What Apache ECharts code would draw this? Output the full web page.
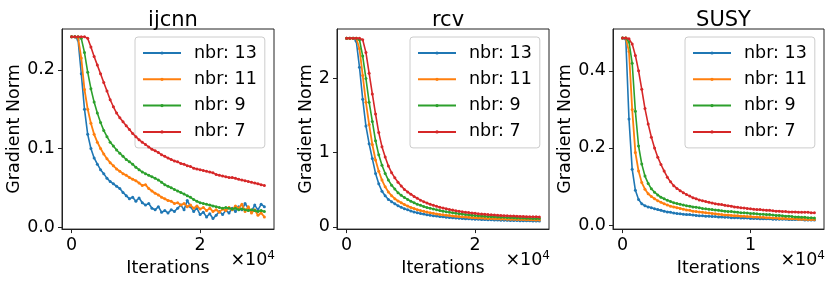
<!DOCTYPE html>
<html>
<head>
<meta charset="utf-8">
<script src="https://cdn.jsdelivr.net/npm/echarts@6/dist/echarts.min.js"></script>
<style>html,body{margin:0;padding:0;background:#fff}#c{width:830px;height:282px}</style>
</head>
<body>
<div id="c"></div>
<script>
const seriesNames = ['nbr: 13', 'nbr: 11', 'nbr: 9', 'nbr: 7'];
const panelTitles = ['ijcnn', 'rcv', 'SUSY'];

const itersLong = [0,500,1000,1500,2000,2500,3000,3500,4000,4500,5000,5500,6000,6500,7000,7500,8000,8500,9000,9500,10000,10500,11000,11500,12000,12500,13000,13500,14000,14500,15000,15500,16000,16500,17000,17500,18000,18500,19000,19500,20000,20500,21000,21500,22000,22500,23000,23500,24000,24500,25000,25500,26000,26500,27000,27500,28000,28500,29000,29500,30000];
const itersShort = [0,250,500,750,1000,1250,1500,1750,2000,2250,2500,2750,3000,3250,3500,3750,4000,4250,4500,4750,5000,5250,5500,5750,6000,6250,6500,6750,7000,7250,7500,7750,8000,8250,8500,8750,9000,9250,9500,9750,10000,10250,10500,10750,11000,11250,11500,11750,12000,12250,12500,12750,13000,13250,13500,13750,14000,14250,14500,14750,15000];

// ijcnn
const ijcnn13 = [0.242,0.242,0.238,0.195,0.150,0.118,0.100,0.088,0.080,0.073,0.068,0.062,0.058,0.055,0.052,0.049,0.044,0.040,0.036,0.038,0.033,0.037,0.031,0.028,0.030,0.024,0.022,0.026,0.019,0.021,0.018,0.022,0.020,0.024,0.028,0.022,0.034,0.026,0.020,0.024,0.016,0.019,0.013,0.017,0.011,0.015,0.020,0.016,0.021,0.018,0.024,0.020,0.026,0.022,0.030,0.024,0.020,0.028,0.022,0.029,0.026];
const ijcnn11 = [0.242,0.242,0.241,0.215,0.175,0.150,0.132,0.118,0.108,0.100,0.093,0.087,0.082,0.078,0.074,0.071,0.068,0.066,0.063,0.061,0.059,0.056,0.053,0.054,0.049,0.046,0.043,0.041,0.038,0.036,0.034,0.033,0.030,0.031,0.028,0.030,0.026,0.028,0.024,0.027,0.023,0.025,0.021,0.024,0.020,0.022,0.019,0.023,0.021,0.025,0.022,0.027,0.024,0.029,0.020,0.026,0.018,0.022,0.015,0.018,0.013];
const ijcnn9 = [0.242,0.242,0.242,0.240,0.222,0.197,0.176,0.159,0.145,0.133,0.123,0.115,0.108,0.103,0.098,0.094,0.090,0.086,0.083,0.080,0.076,0.073,0.070,0.068,0.066,0.064,0.062,0.060,0.057,0.054,0.052,0.050,0.048,0.046,0.044,0.042,0.040,0.038,0.035,0.033,0.031,0.030,0.029,0.028,0.027,0.026,0.025,0.024,0.025,0.024,0.023,0.024,0.022,0.023,0.022,0.021,0.022,0.021,0.020,0.021,0.020];
const ijcnn7 = [0.242,0.242,0.242,0.242,0.242,0.240,0.229,0.217,0.206,0.195,0.184,0.173,0.162,0.153,0.145,0.139,0.134,0.129,0.124,0.119,0.115,0.111,0.108,0.105,0.102,0.099,0.097,0.095,0.092,0.090,0.088,0.086,0.084,0.083,0.081,0.080,0.078,0.077,0.075,0.074,0.073,0.072,0.071,0.070,0.069,0.067,0.066,0.065,0.064,0.063,0.063,0.062,0.061,0.060,0.059,0.058,0.057,0.056,0.055,0.054,0.053];

// rcv
const rcv13 = [2.54,2.54,2.54,2.50,2.15,1.72,1.36,1.12,0.92,0.72,0.58,0.48,0.42,0.37,0.34,0.31,0.285,0.265,0.245,0.23,0.215,0.20,0.19,0.18,0.172,0.164,0.157,0.150,0.145,0.140,0.135,0.131,0.127,0.123,0.120,0.117,0.114,0.111,0.109,0.106,0.104,0.102,0.100,0.098,0.096,0.095,0.093,0.092,0.090,0.089,0.088,0.087,0.086,0.085,0.084,0.083,0.082,0.081,0.080,0.079,0.078];
const rcv11 = [2.54,2.54,2.54,2.54,2.40,2.04,1.68,1.38,1.11,0.90,0.75,0.63,0.54,0.47,0.42,0.38,0.35,0.325,0.30,0.28,0.262,0.246,0.232,0.22,0.21,0.20,0.19,0.182,0.175,0.168,0.162,0.157,0.152,0.147,0.143,0.139,0.135,0.132,0.129,0.126,0.123,0.121,0.118,0.116,0.114,0.112,0.110,0.108,0.107,0.105,0.104,0.102,0.101,0.100,0.099,0.098,0.097,0.096,0.095,0.094,0.093];
const rcv9 = [2.54,2.54,2.54,2.54,2.52,2.30,2.00,1.68,1.42,1.16,0.97,0.83,0.72,0.63,0.56,0.51,0.46,0.425,0.395,0.37,0.345,0.325,0.305,0.29,0.275,0.262,0.25,0.24,0.23,0.22,0.212,0.204,0.197,0.19,0.184,0.178,0.172,0.167,0.162,0.158,0.154,0.15,0.147,0.144,0.141,0.138,0.135,0.133,0.131,0.129,0.127,0.125,0.123,0.121,0.119,0.118,0.116,0.115,0.114,0.113,0.112];
const rcv7 = [2.54,2.54,2.54,2.54,2.54,2.52,2.35,2.07,1.79,1.52,1.27,1.08,0.94,0.82,0.73,0.66,0.60,0.55,0.505,0.47,0.44,0.41,0.385,0.36,0.34,0.322,0.306,0.29,0.277,0.265,0.254,0.244,0.235,0.226,0.218,0.211,0.204,0.198,0.192,0.187,0.182,0.177,0.173,0.169,0.165,0.162,0.159,0.156,0.153,0.151,0.149,0.147,0.145,0.143,0.141,0.139,0.138,0.137,0.136,0.135,0.134];

// SUSY
const susy13 = [0.485,0.482,0.275,0.145,0.090,0.066,0.055,0.050,0.047,0.045,0.042,0.040,0.038,0.036,0.034,0.033,0.031,0.030,0.029,0.028,0.027,0.027,0.026,0.025,0.024,0.024,0.023,0.023,0.022,0.022,0.021,0.021,0.020,0.020,0.019,0.019,0.019,0.018,0.018,0.018,0.017,0.017,0.017,0.016,0.016,0.016,0.016,0.015,0.015,0.015,0.015,0.015,0.014,0.014,0.014,0.014,0.014,0.013,0.013,0.013,0.013];
const susy11 = [0.485,0.485,0.450,0.300,0.188,0.140,0.110,0.093,0.081,0.074,0.068,0.063,0.059,0.055,0.052,0.049,0.047,0.045,0.043,0.041,0.039,0.038,0.036,0.035,0.034,0.033,0.032,0.031,0.030,0.029,0.028,0.027,0.026,0.026,0.025,0.024,0.024,0.023,0.023,0.022,0.022,0.021,0.021,0.020,0.020,0.019,0.019,0.018,0.018,0.017,0.017,0.017,0.016,0.016,0.016,0.015,0.015,0.015,0.014,0.014,0.014];
const susy9 = [0.485,0.485,0.475,0.420,0.295,0.205,0.158,0.127,0.108,0.094,0.085,0.078,0.072,0.068,0.064,0.061,0.058,0.056,0.054,0.052,0.050,0.049,0.047,0.046,0.045,0.043,0.042,0.041,0.040,0.039,0.038,0.037,0.036,0.035,0.035,0.034,0.033,0.032,0.032,0.031,0.030,0.030,0.029,0.028,0.028,0.027,0.027,0.026,0.025,0.025,0.024,0.023,0.023,0.022,0.021,0.021,0.020,0.020,0.019,0.019,0.018];
const susy7 = [0.485,0.485,0.483,0.470,0.440,0.400,0.352,0.302,0.262,0.228,0.200,0.176,0.157,0.140,0.124,0.112,0.102,0.095,0.089,0.084,0.079,0.075,0.071,0.068,0.065,0.063,0.061,0.059,0.057,0.055,0.054,0.053,0.051,0.050,0.049,0.047,0.046,0.045,0.044,0.043,0.042,0.041,0.040,0.040,0.039,0.038,0.038,0.037,0.036,0.036,0.035,0.035,0.034,0.034,0.034,0.033,0.033,0.033,0.033,0.032,0.032];

const xTicks = [[0, 20000], [0, 20000], [0, 10000]];
const yTicks = [[0, 0.1, 0.2], [0, 1, 2], [0, 0.2, 0.4]];
const yDecimals = [1, 0, 1];

const colors = ['#1f77b4', '#ff7f0e', '#2ca02c', '#d62728'];
const panels = [
  { iters: itersLong, vals: [ijcnn13, ijcnn11, ijcnn9, ijcnn7], xr: [-1500, 31500], yr: [-0.0025, 0.2519], left: 62, width: 212, yGap: 37 },
  { iters: itersLong, vals: [rcv13, rcv11, rcv9, rcv7], xr: [-1500, 31500], yr: [-0.03, 2.665], left: 337, width: 212, yGap: 22 },
  { iters: itersShort, vals: [susy13, susy11, susy9, susy7], xr: [-750, 15750], yr: [-0.0106, 0.5086], left: 613, width: 211, yGap: 38 }
];
const FONT = 'DejaVu Sans';
const FS = 17.5;
const TOP = 29, HEIGHT = 201;

const option = {
  animation: false,
  backgroundColor: '#fff',
  color: colors,
  title: [], grid: [], xAxis: [], yAxis: [], series: [], legend: [], graphic: []
};

panels.forEach((p, gi) => {
  option.grid.push({ left: p.left, top: TOP, width: p.width, height: HEIGHT, show: true, borderColor: '#222', borderWidth: 1, backgroundColor: 'transparent' });
  option.title.push({
    text: panelTitles[gi], left: p.left + p.width / 2, top: 5, textAlign: 'center',
    textStyle: { fontFamily: FONT, fontSize: 21, fontWeight: 'normal', color: '#000' }
  });
  option.xAxis.push({
    type: 'value', gridIndex: gi, min: p.xr[0], max: p.xr[1],
    name: 'Iterations', nameLocation: 'middle', nameGap: 25,
    nameTextStyle: { fontFamily: FONT, fontSize: FS, color: '#000' },
    axisLine: { show: true, onZero: false, lineStyle: { color: '#222', width: 1 } },
    axisTick: { show: true, inside: false, length: 4, customValues: xTicks[gi], lineStyle: { color: '#222' } },
    axisLabel: { show: true, margin: 7, customValues: xTicks[gi], fontFamily: FONT, fontSize: FS, color: '#000', formatter: v => String(Math.round(v / 10000)) },
    splitLine: { show: false }
  });
  option.yAxis.push({
    type: 'value', gridIndex: gi, min: p.yr[0], max: p.yr[1],
    name: 'Gradient Norm', nameLocation: 'middle', nameGap: p.yGap, nameRotate: 90,
    nameTextStyle: { fontFamily: FONT, fontSize: FS, color: '#000' },
    axisLine: { show: true, onZero: false, lineStyle: { color: '#222', width: 1 } },
    axisTick: { show: true, inside: false, length: 4, customValues: yTicks[gi], lineStyle: { color: '#222' } },
    axisLabel: { show: true, margin: 7, customValues: yTicks[gi], fontFamily: FONT, fontSize: FS, color: '#000', formatter: v => v.toFixed(yDecimals[gi]) },
    splitLine: { show: false }
  });
  p.vals.forEach((vals, si) => {
    option.series.push({
      type: 'line', name: seriesNames[si], xAxisIndex: gi, yAxisIndex: gi,
      data: p.iters.map((x, k) => [x, vals[k]]),
      symbol: 'circle', symbolSize: 3, showSymbol: true,
      lineStyle: { width: si === 1 ? 1.8 : 1.6, color: colors[si] },
      itemStyle: { color: colors[si] },
      emphasis: { disabled: true }, z: 2 + si
    });
  });
  option.legend.push({
    data: seriesNames, orient: 'vertical', left: p.left + p.width - 139, top: 37,
    padding: [7, 8, 7, 7], itemWidth: 38, itemHeight: 4, itemGap: 8.3,
    backgroundColor: 'rgba(255,255,255,0.8)', borderColor: '#cccccc', borderWidth: 1, borderRadius: 3,
    textStyle: { fontFamily: FONT, fontSize: FS, color: '#000', lineHeight: 18, padding: [0, 0, 0, 8] },
    selectedMode: false
  });
  option.graphic.push({
    type: 'text', right: 830 - (p.left + p.width) - 1, top: 250,
    style: {
      text: '{a|×10}{b|4}',
      rich: {
        a: { fontFamily: FONT, fontSize: FS, fill: '#000' },
        b: { fontFamily: FONT, fontSize: 12, fill: '#000', verticalAlign: 'top', padding: [0, 0, 8, 0] }
      }
    }
  });
});

const chart = echarts.init(document.getElementById('c'), null, { renderer: 'canvas' });
chart.setOption(option);
</script>
</body>
</html>
